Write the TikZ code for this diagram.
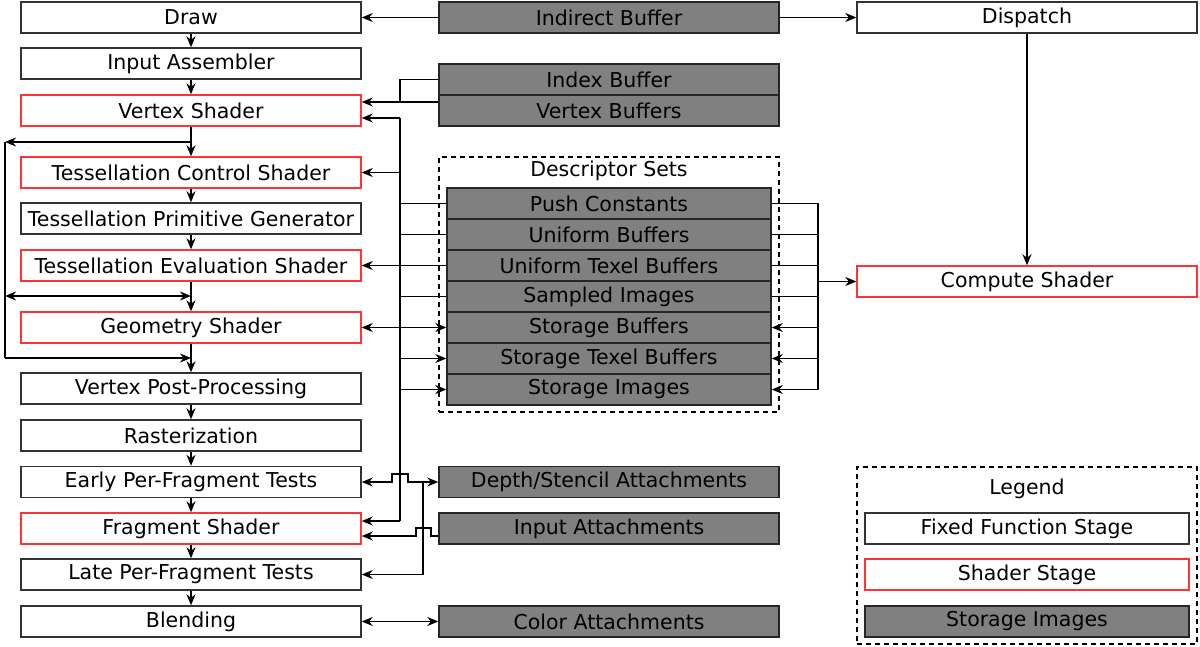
\documentclass[tikz,border=0pt]{standalone}
\usepackage{fontspec}
\setmainfont{DejaVu Sans}
\usetikzlibrary{arrows.meta}
\definecolor{boxline}{HTML}{333333}
\definecolor{shaderred}{HTML}{FF3333}
\definecolor{resgray}{HTML}{808080}
\tikzset{
  stagebox/.style={draw=boxline, line width=1.4pt, minimum width=340pt, minimum height=31pt, inner sep=0pt, fill=white, font=\fontsize{20.5}{24}\selectfont},
  shaderbox/.style={stagebox, draw=shaderred},
  resbox/.style={stagebox, fill=resgray, draw=black!85},
  innerres/.style={resbox, minimum width=324pt},
  conn/.style={line width=1.4pt, black},
  tip/.tip={Stealth[length=11pt,width=9pt,inset=3.5pt]},
  arr/.style={conn, -tip},
  darr/.style={conn, tip-tip},
  groupbox/.style={draw, line width=1.4pt, dash pattern=on 5pt off 4pt},
  lbl/.style={font=\fontsize{20.5}{24}\selectfont, inner sep=0pt}
}
\begin{document}
\begin{tikzpicture}[x=1pt,y=-1pt]
\useasboundingbox (0,0) rectangle (1200,647);
% left column
\node[stagebox]  (draw) at (191,17.5)  {Draw};
\node[stagebox]  (ia)   at (191,63.5)  {Input Assembler};
\node[shaderbox] (vs)   at (191,110.5) {Vertex Shader};
\node[shaderbox] (tcs)  at (191,172.5) {Tessellation Control Shader};
\node[stagebox]  (tpg)  at (191,218.5) {Tessellation Primitive Generator};
\node[shaderbox] (tes)  at (191,265.5) {Tessellation Evaluation Shader};
\node[shaderbox] (gs)   at (191,327.5) {Geometry Shader};
\node[stagebox]  (vpp)  at (191,388.5) {Vertex Post-Processing};
\node[stagebox]  (rast) at (191,435.5) {Rasterization};
\node[stagebox]  (early) at (191,482)  {Early Per-Fragment Tests};
\node[shaderbox] (fs)   at (191,528.5) {Fragment Shader};
\node[stagebox]  (late) at (191,574.5) {Late Per-Fragment Tests};
\node[stagebox]  (blend) at (191,621.5) {Blending};
% middle column
\node[resbox] (indirect) at (609,17.5) {Indirect Buffer};
\node[resbox] (index) at (609,79.5) {Index Buffer};
\node[resbox] (vbuf) at (609,110.5) {Vertex Buffers};
\node[groupbox, minimum width=340pt, minimum height=255pt, inner sep=0pt] (dsets) at (609,284.5) {};
\node[lbl] (dslabel) at (609,171) {Descriptor Sets};
\node[innerres] (push) at (609,203.5) {Push Constants};
\node[innerres] (ub)   at (609,234.5) {Uniform Buffers};
\node[innerres] (utb)  at (609,265.5) {Uniform Texel Buffers};
\node[innerres] (si)   at (609,296.5) {Sampled Images};
\node[innerres] (sb)   at (609,327.5) {Storage Buffers};
\node[innerres] (stb)  at (609,358.5) {Storage Texel Buffers};
\node[innerres] (sti)  at (609,389.5) {Storage Images};
\node[resbox] (depth) at (609,482) {Depth/Stencil Attachments};
\node[resbox] (inatt) at (609,528.5) {Input Attachments};
\node[resbox] (color) at (609,621.5) {Color Attachments};
% right column
\node[stagebox]  (dispatch) at (1027,17.5) {Dispatch};
\node[shaderbox] (cs) at (1027,281.5) {Compute Shader};
\node[groupbox, minimum width=340pt, minimum height=177pt, inner sep=0pt] (legend) at (1027,555.5) {};
\node[lbl] (leglabel) at (1027,488.5) {Legend};
\node[stagebox, minimum width=324pt]  (lff) at (1027,528.5) {Fixed Function Stage};
\node[shaderbox, minimum width=324pt] (lsh) at (1027,574.5) {Shader Stage};
\node[innerres] (lst) at (1027,621.5) {Storage Images};
% coordinates
\coordinate (loopA) at (191,142);
\coordinate (loopTL) at (5,142);
\coordinate (loopB) at (5,296);
\coordinate (loopBR) at (191,296);
\coordinate (loopC) at (5,358);
\coordinate (loopCR) at (191,358);
\coordinate (busTop) at (400,118);
\coordinate (busBot) at (400,521);
\coordinate (rbusTop) at (818,203.5);
\coordinate (rbusBot) at (818,389.5);
% indirect
\draw[arr] (indirect.west) -- (draw.east);
\draw[arr] (indirect.east) -- (dispatch.west);
\draw[arr] (dispatch.south) -- (cs.north);
% main chain
\draw[arr] (draw) -- (ia);
\draw[arr] (ia) -- (vs);
\draw[arr] (vs) -- (tcs);
\draw[arr] (tcs) -- (tpg);
\draw[arr] (tpg) -- (tes);
\draw[arr] (tes) -- (gs);
\draw[arr] (gs) -- (vpp);
\draw[arr] (vpp) -- (rast);
\draw[arr] (rast) -- (early);
\draw[arr] (early) -- (fs);
\draw[arr] (fs) -- (late);
\draw[arr] (late) -- (blend);
% bypass loop
\draw[arr] (loopA) -- (loopTL);
\draw[conn] (loopTL) -- (loopC);
\draw[darr] (loopB) -- (loopBR);
\draw[arr] (loopC) -- (loopCR);
% vertex input
\draw[conn] (index.west) -- (400,79.5) -- (400,102);
\draw[arr] (vbuf.west |- 0,102) -- (vs.east |- 0,102);
% descriptor bus left
\draw[conn] (busTop) -- (busBot);
\draw[arr] (busTop) -- (vs.east |- busTop);
\draw[arr] (400,172.5) -- (tcs.east);
\draw[conn] (push.west) -- (400,203.5);
\draw[conn] (ub.west) -- (400,234.5);
\draw[arr] (utb.west) -- (tes.east);
\draw[conn] (si.west) -- (400,296.5);
\draw[darr] (gs.east) -- (sb.west);
\draw[arr] (400,358.5) -- (stb.west);
\draw[arr] (400,389.5) -- (sti.west);
\draw[arr] (busBot) -- (fs.east |- busBot);
% descriptor bus right
\draw[conn] (rbusTop) -- (rbusBot);
\draw[conn] (push.east) -- (rbusTop);
\draw[conn] (ub.east) -- (818,234.5);
\draw[conn] (utb.east) -- (818,265.5);
\draw[conn] (si.east) -- (818,296.5);
\draw[arr] (818,327.5) -- (sb.east);
\draw[arr] (818,358.5) -- (stb.east);
\draw[arr] (rbusBot) -- (sti.east);
\draw[arr] (818,281.5) -- (cs.west);
% attachments
\draw[darr] (early.east) -- (392,482) -- (392,474) -- (408,474) -- (408,482) -- (depth.west);
\draw[arr] (423,482) -- (423,574.5) -- (late.east);
\draw[arr] (inatt.west |- 0,536) -- (431,536) -- (431,528) -- (416,528) -- (416,536) -- (fs.east |- 0,536);
\draw[darr] (blend.east) -- (color.west);
\end{tikzpicture}
\end{document}
